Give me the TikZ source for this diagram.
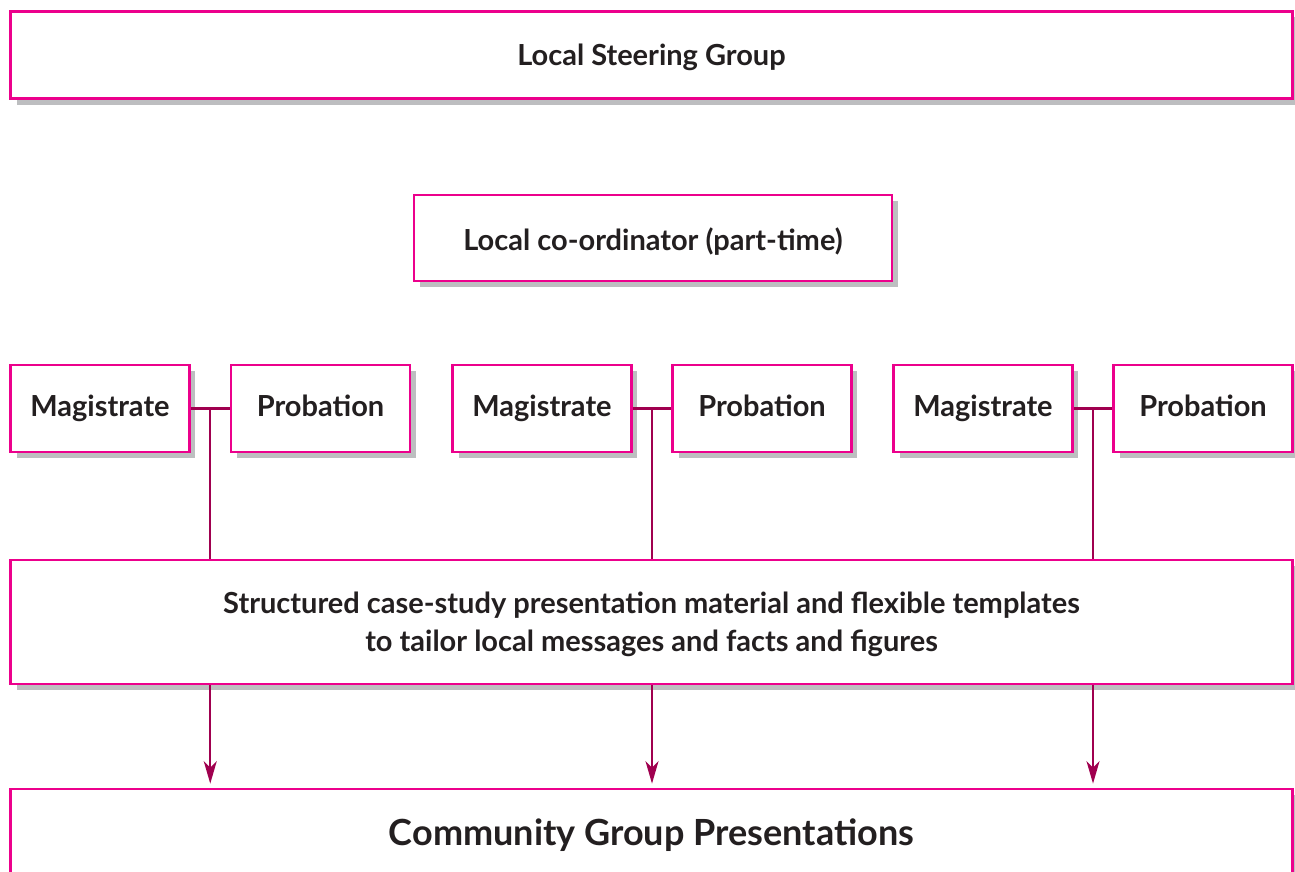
\documentclass[tikz,border=0pt]{standalone}
\usepackage{fontspec}
\setmainfont{Lato}
\usepackage[x11names, svgnames]{xcolor}
\usepackage{tikz}
\usetikzlibrary{arrows.meta, shadows}

\definecolor{BoxPink}{HTML}{EC008C}
\definecolor{LinkRed}{HTML}{A0004F}
\definecolor{ShadowGray}{HTML}{BDBEC0}
\definecolor{TextDark}{HTML}{231F20}

\begin{document}
\begin{tikzpicture}[x=0.02cm, y=-0.02cm,
  box/.style={draw=BoxPink, line width=0.055cm, fill=white, inner sep=0pt, text=TextDark,
    font=\bfseries\fontsize{16.5}{21.8}\selectfont, align=center,
    drop shadow={shadow xshift=0.12cm, shadow yshift=-0.12cm, fill=ShadowGray, opacity=1}},
  oneline/.style={box, text height=12.5pt, text depth=3.5pt},
  wide/.style={box, minimum width=25.64cm},
  small/.style={oneline, minimum width=3.58cm, minimum height=1.74cm},
  link/.style={draw=LinkRed, line width=0.045cm},
  arrow/.style={link, -{Stealth[length=0.45cm, width=0.26cm, inset=0.13cm]}, shorten >=0.08cm}]
  \path[use as bounding box, clip] (0,0) rectangle (1295,872);

  \node[wide, oneline, minimum height=1.75cm, text height=15.7pt] (steer) at (651.5,55) {Local Steering Group};
  \node[oneline, minimum width=9.56cm, minimum height=1.72cm, text height=18pt] (coord) at (653,238) {Local co-ordinator (part-time)};

  \node[small] (mag1) at (100,408.5) {Magistrate};
  \node[small] (prob1) at (320.5,408.5) {Probation};
  \node[small] (mag2) at (542,408.5) {Magistrate};
  \node[small] (prob2) at (762,408.5) {Probation};
  \node[small] (mag3) at (983,408.5) {Magistrate};
  \node[small] (prob3) at (1203,408.5) {Probation};

  \node[wide, minimum height=2.48cm] (struct) at (651.5,622) {\rule{0pt}{15pt}Structured case-study presentation material and flexible templates\\to tailor local messages and facts and figures};
  \node[wide, oneline, minimum height=1.72cm, text height=18.8pt, text depth=4pt, font=\bfseries\fontsize{20.5}{25}\selectfont] (comm) at (651.5,832) {Community Group Presentations};

  % pairs joined, then down to the material
  \draw[link] (mag1.east) -- coordinate (j1) (prob1.west);
  \draw[link] (mag2.east) -- coordinate (j2) (prob2.west);
  \draw[link] (mag3.east) -- coordinate (j3) (prob3.west);
  \draw[link] (j1) -- (j1 |- struct.north);
  \draw[link] (j2) -- (j2 |- struct.north);
  \draw[link] (j3) -- (j3 |- struct.north);

  \draw[arrow] (j1 |- struct.south) -- (j1 |- comm.north);
  \draw[arrow] (j2 |- struct.south) -- (j2 |- comm.north);
  \draw[arrow] (j3 |- struct.south) -- (j3 |- comm.north);
\end{tikzpicture}
\end{document}
